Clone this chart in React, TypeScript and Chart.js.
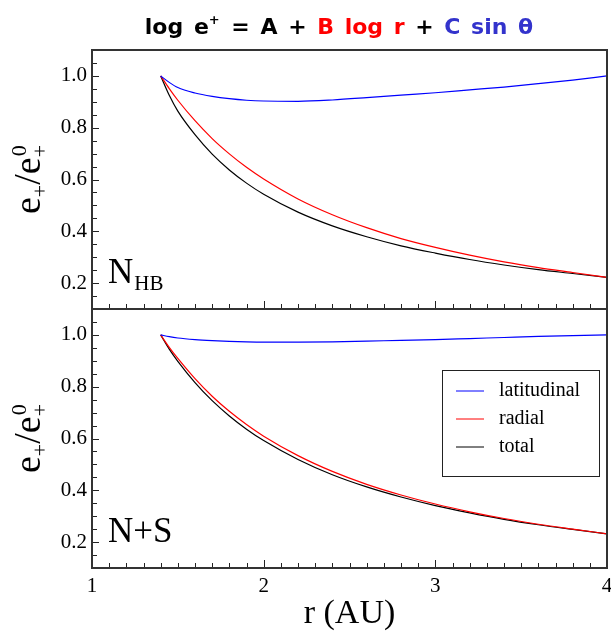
import { useEffect, useRef } from 'react';
import { Chart, registerables } from 'chart.js';

Chart.register(...registerables);

// ---------- data ----------
const R = [1.4, 1.45, 1.5, 1.6, 1.7, 1.8, 1.9, 2.0, 2.2, 2.4, 2.6, 2.8, 3.0, 3.2, 3.4, 3.6, 3.8, 4.0];

const LAT_NHB = [1.0, 0.975, 0.955, 0.934, 0.921, 0.912, 0.906, 0.903, 0.902, 0.907, 0.916, 0.926, 0.935, 0.946, 0.957, 0.970, 0.984, 1.0];
const RAD_NHB = [1.0, 0.951, 0.906, 0.827, 0.758, 0.699, 0.647, 0.602, 0.525, 0.464, 0.414, 0.372, 0.338, 0.308, 0.282, 0.260, 0.241, 0.222];
const TOT_NHB = [1.0, 0.925, 0.864, 0.773, 0.698, 0.637, 0.586, 0.543, 0.474, 0.421, 0.379, 0.344, 0.316, 0.291, 0.270, 0.252, 0.237, 0.222];

const LAT_NS = [1.0, 0.993, 0.988, 0.982, 0.978, 0.975, 0.973, 0.972, 0.972, 0.973, 0.976, 0.979, 0.982, 0.986, 0.990, 0.994, 0.997, 1.0];
const RAD_NS = [1.0, 0.952, 0.909, 0.831, 0.763, 0.705, 0.654, 0.609, 0.534, 0.473, 0.423, 0.382, 0.347, 0.317, 0.291, 0.269, 0.250, 0.232];
const TOT_NS = [1.0, 0.945, 0.898, 0.816, 0.746, 0.687, 0.636, 0.592, 0.519, 0.460, 0.413, 0.374, 0.341, 0.313, 0.288, 0.267, 0.249, 0.232];

const SERIES_LABELS = ['latitudinal', 'radial', 'total'];
const SERIES_COLORS = ['#0000ff', '#ff0000', '#000000'];

const X_TICKS = [1, 2, 3, 4];
const Y_TICKS = [0.2, 0.4, 0.6, 0.8, 1.0];
const X_TITLE = 'r (AU)';

const TITLE_PARTS = [
  { t: 'log e', c: '#000000', sup: false },
  { t: '+', c: '#000000', sup: true },
  { t: ' = A + ', c: '#000000', sup: false },
  { t: 'B log r', c: '#ff0000', sup: false },
  { t: ' + ', c: '#000000', sup: false },
  { t: 'C sin θ', c: '#3333cc', sup: false },
];

const PANEL_LABELS = [
  { main: 'N', sub: 'HB' },
  { main: 'N+S', sub: '' },
];

const SERIF = '"Liberation Serif", "Times New Roman", serif';

// ---------- helpers ----------
function pts(ys: number[]) {
  return R.map((x, i) => ({ x, y: ys[i] }));
}

function drawYTitle(ctx: CanvasRenderingContext2D, cx: number, cy: number) {
  const big = `38px ${SERIF}`;
  const small = `22px ${SERIF}`;
  ctx.save();
  ctx.translate(cx, cy);
  ctx.rotate(-Math.PI / 2);
  ctx.fillStyle = '#000';
  ctx.textBaseline = 'alphabetic';
  ctx.textAlign = 'left';
  ctx.font = big;
  const wE = ctx.measureText('e').width;
  const wSl = ctx.measureText('/').width;
  ctx.font = small;
  const wP = ctx.measureText('+').width;
  const w0 = ctx.measureText('0').width;
  const total = wE + wP + wSl + wE + Math.max(wP, w0);
  let u = -total / 2;
  ctx.font = big;
  ctx.fillText('e', u, 0); u += wE;
  ctx.font = small;
  ctx.fillText('+', u, 7); u += wP;
  ctx.font = big;
  ctx.fillText('/', u, 0); u += wSl;
  ctx.fillText('e', u, 0); u += wE;
  ctx.font = small;
  ctx.fillText('0', u + 1, -14);
  ctx.fillText('+', u, 7);
  ctx.restore();
}

function makePlugin(panel: number, withLegend: boolean, withTitle: boolean) {
  return {
    id: 'panelDecor' + panel,
    afterDraw(chart: any) {
      const { ctx, chartArea: a, scales } = chart;
      const xs = scales.x;
      const ys = scales.y;
      ctx.save();
      // inner ticks
      ctx.strokeStyle = '#222';
      ctx.lineWidth = 1;
      ctx.beginPath();
      for (let i = 0; i <= 30; i++) {
        const px = Math.round(xs.getPixelForValue(1 + i * 0.1)) + 0.5;
        const len = i % 10 === 0 ? 8 : 5;
        ctx.moveTo(px, a.bottom);
        ctx.lineTo(px, a.bottom - len);
      }
      for (let i = 0; i <= 20; i++) {
        const py = Math.round(ys.getPixelForValue(0.1 + i * 0.05)) + 0.5;
        const len = i % 4 === 2 ? 7 : 5;
        ctx.moveTo(a.left, py);
        ctx.lineTo(a.left + len, py);
      }
      ctx.stroke();
      // frame
      ctx.strokeStyle = '#333';
      ctx.lineWidth = 2;
      ctx.strokeRect(a.left, a.top, a.right - a.left, a.bottom - a.top);

      // y title
      drawYTitle(ctx, 40, (a.top + a.bottom) / 2);

      // panel label
      const pl = PANEL_LABELS[panel];
      ctx.fillStyle = '#000';
      ctx.textAlign = 'left';
      ctx.textBaseline = 'alphabetic';
      ctx.font = `35px ${SERIF}`;
      const lx = a.left + 16;
      const ly = a.bottom - 26;
      ctx.fillText(pl.main, lx, ly);
      if (pl.sub) {
        const w = ctx.measureText(pl.main).width;
        ctx.font = `21px ${SERIF}`;
        ctx.fillText(pl.sub, lx + w + 1, ly + 7);
      }

      // legend
      if (withLegend) {
        const left = a.right - 165;
        const top = a.top + 61;
        ctx.strokeStyle = '#222';
        ctx.lineWidth = 1;
        ctx.strokeRect(left + 0.5, top + 0.5, 157, 106);
        chart.data.datasets.forEach((ds: any, i: number) => {
          const yy = top + 21 + i * 28;
          ctx.strokeStyle = ds.borderColor;
          ctx.lineWidth = 1;
          ctx.beginPath();
          ctx.moveTo(left + 14, yy);
          ctx.lineTo(left + 42, yy);
          ctx.stroke();
          ctx.fillStyle = '#000';
          ctx.font = `20px ${SERIF}`;
          ctx.textBaseline = 'middle';
          ctx.fillText(ds.label, left + 57, yy);
        });
      }

      // title
      if (withTitle) {
        const main = 'bold 22px "DejaVu Sans", sans-serif';
        const sup = 'bold 13px "DejaVu Sans", sans-serif';
        (ctx as any).wordSpacing = '3px';
        ctx.textBaseline = 'alphabetic';
        let total = 0;
        const widths = TITLE_PARTS.map((p) => {
          ctx.font = p.sup ? sup : main;
          const w = ctx.measureText(p.t).width + (p.sup ? 1 : 0);
          total += w;
          return w;
        });
        let x = 339 - total / 2;
        TITLE_PARTS.forEach((p, i) => {
          ctx.font = p.sup ? sup : main;
          ctx.fillStyle = p.c;
          ctx.fillText(p.t, x, p.sup ? 24 : 34);
          x += widths[i];
        });
      }
      ctx.restore();
    },
  };
}

function makeConfig(panel: number): any {
  const bottom = panel === 1;
  const lat = bottom ? LAT_NS : LAT_NHB;
  const rad = bottom ? RAD_NS : RAD_NHB;
  const tot = bottom ? TOT_NS : TOT_NHB;
  const series = [lat, rad, tot];
  return {
    type: 'line',
    data: {
      datasets: series.map((s, i) => ({
        label: SERIES_LABELS[i],
        data: pts(s),
        borderColor: SERIES_COLORS[i],
        backgroundColor: SERIES_COLORS[i],
        borderWidth: 1.2,
        pointRadius: 0,
        fill: false,
        cubicInterpolationMode: 'monotone',
      })),
    },
    options: {
      responsive: false,
      animation: false,
      events: [],
      layout: {
        autoPadding: false,
        padding: bottom
          ? { top: 1, right: 4, bottom: 0, left: 0 }
          : { top: 50, right: 4, bottom: 1, left: 0 },
      },
      plugins: { legend: { display: false }, tooltip: { enabled: false }, title: { display: false } },
      scales: {
        x: {
          type: 'linear',
          min: 1,
          max: 4,
          display: bottom,
          afterBuildTicks: (s: any) => {
            s.ticks = X_TICKS.map((v) => ({ value: v }));
          },
          afterFit: (s: any) => {
            s.paddingLeft = 0;
            s.paddingRight = 0;
            s.height = bottom ? 64 : 0;
          },
          ticks: {
            color: '#000',
            font: { family: SERIF, size: 21 },
            padding: 6,
            maxRotation: 0,
            autoSkip: false,
            callback: (v: any) => String(v),
          },
          grid: { display: false, drawTicks: false, tickLength: 0 },
          border: { display: false },
          title: {
            display: true,
            text: X_TITLE,
            color: '#000',
            font: { family: SERIF, size: 34, lineHeight: 1 },
            padding: { top: 0, bottom: 1 },
          },
        },
        y: {
          type: 'linear',
          min: 0.1,
          max: 1.1,
          afterBuildTicks: (s: any) => {
            s.ticks = Y_TICKS.map((v) => ({ value: v }));
          },
          afterFit: (s: any) => {
            s.width = 92;
            s.paddingTop = 0;
            s.paddingBottom = 0;
          },
          ticks: {
            color: '#000',
            font: { family: SERIF, size: 21 },
            padding: 5,
            callback: (v: any) => Number(v).toFixed(1),
          },
          grid: { display: false, drawTicks: false, tickLength: 0 },
          border: { display: false },
        },
      },
    },
    plugins: [makePlugin(panel, bottom, !bottom)],
  };
}

export default function App() {
  const topRef = useRef<HTMLCanvasElement>(null);
  const botRef = useRef<HTMLCanvasElement>(null);
  useEffect(() => {
    document.body.style.margin = '0';
    const c1 = new Chart(topRef.current as HTMLCanvasElement, makeConfig(0));
    const c2 = new Chart(botRef.current as HTMLCanvasElement, makeConfig(1));
    return () => {
      c1.destroy();
      c2.destroy();
    };
  }, []);
  return (
    <div style={{ position: 'relative', width: 611, height: 632, background: '#fff', overflow: 'hidden' }}>
      <canvas ref={topRef} width={611} height={310} style={{ position: 'absolute', left: 0, top: 0, display: 'block' }} />
      <canvas ref={botRef} width={611} height={324} style={{ position: 'absolute', left: 0, top: 308, display: 'block' }} />
    </div>
  );
}
